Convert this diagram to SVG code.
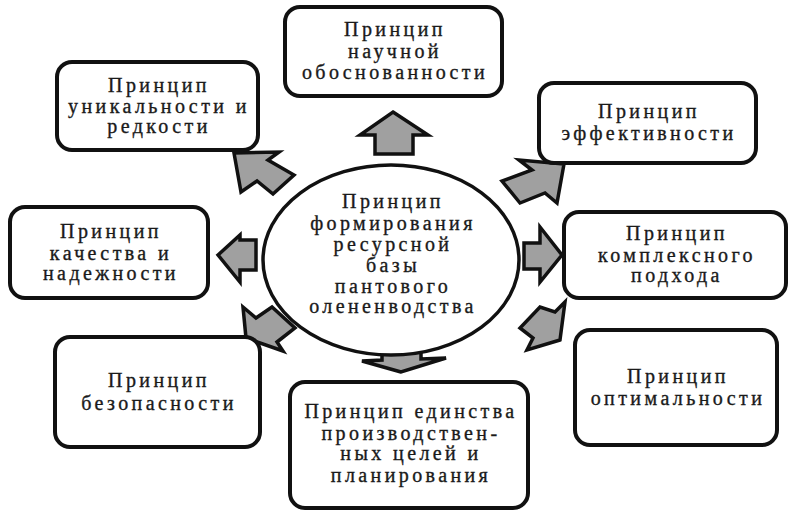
<svg xmlns="http://www.w3.org/2000/svg" width="797" height="525" viewBox="0 0 797 525" font-family="Liberation Serif">
<style>
.box{fill:#fff;stroke:#111;stroke-width:4}
.ell{fill:#fff;stroke:#111;stroke-width:3.5}
.arr{fill:#a0a0a0;stroke:#111;stroke-width:3.5;stroke-linejoin:miter}
.t{font-size:20px;fill:#1a1a1a;stroke:#1a1a1a;stroke-width:0.35;text-anchor:middle;letter-spacing:3.4px}
</style>
<rect width="797" height="525" fill="#fff"/>
<g id="connectors">
<polygon class="arr" points="393,112 428,135 413,135 413,154 375,154 375,135 360,135"/>
<polygon class="arr" points="218,255 240,235 240,240 256,240 256,270 240,270 240,282"/>
<polygon class="arr" points="562,255 540,282 540,269 524,269 524,243 540,243 540,227"/>
<polygon class="arr" points="401,372 362,361 382,360 382,348 421,348 421,359 446,358"/>
<polygon class="arr" points="234,153 279,152 268,160 294,175 273,194 257,181 241,192"/>
<polygon class="arr" points="564,164 557,203 545,193 520,203 502,181 532,170 519,160"/>
<polygon class="arr" points="246,338 243,307 256,318 272,307 295,328 277,342 283,351"/>
<polygon class="arr" points="560,340 527,350 533,338 520,328 540,307 555,312 565,302"/>
</g>
<g id="center" font-family="Liberation Serif">
<ellipse class="ell" cx="391" cy="260" rx="128" ry="95"/>
<text class="t" x="393" y="208">Принцип</text>
<text class="t" x="393" y="230">формирования</text>
<text class="t" x="393" y="251">ресурсной</text>
<text class="t" x="393" y="272">базы</text>
<text class="t" x="393" y="293">пантового</text>
<text class="t" x="393" y="313">олененводства</text>
</g>
<g id="n1" font-family="Liberation Serif">
<rect class="box" x="285" y="7" width="217" height="89" rx="15"/>
<text class="t" x="395" y="36">Принцип</text>
<text class="t" x="395" y="58">научной</text>
<text class="t" x="395" y="79">обоснованности</text>
</g>
<g id="n2" font-family="Liberation Serif">
<rect class="box" x="57" y="62" width="201" height="88" rx="15"/>
<text class="t" x="159" y="92">Принцип</text>
<text class="t" x="159" y="113">уникальности и</text>
<text class="t" x="159" y="133">редкости</text>
</g>
<g id="n3" font-family="Liberation Serif">
<rect class="box" x="539" y="83" width="217" height="80" rx="15"/>
<text class="t" x="649" y="118">Принцип</text>
<text class="t" x="649" y="140">эффективности</text>
</g>
<g id="n4" font-family="Liberation Serif">
<rect class="box" x="10" y="207" width="198" height="91" rx="15"/>
<text class="t" x="111" y="238">Принцип</text>
<text class="t" x="111" y="260">качества и</text>
<text class="t" x="111" y="280">надежности</text>
</g>
<g id="n5" font-family="Liberation Serif">
<rect class="box" x="564" y="212" width="222" height="86" rx="15"/>
<text class="t" x="677" y="240">Принцип</text>
<text class="t" x="677" y="262">комплексного</text>
<text class="t" x="677" y="282">подхода</text>
</g>
<g id="n6" font-family="Liberation Serif">
<rect class="box" x="55" y="337" width="205" height="110" rx="15"/>
<text class="t" x="159" y="387">Принцип</text>
<text class="t" x="159" y="410">безопасности</text>
</g>
<g id="n7" font-family="Liberation Serif">
<rect class="box" x="290" y="382" width="238" height="126" rx="15"/>
<text class="t" x="411" y="418">Принцип единства</text>
<text class="t" x="411" y="440">производствен-</text>
<text class="t" x="411" y="460">ных целей и</text>
<text class="t" x="411" y="482">планирования</text>
</g>
<g id="n8" font-family="Liberation Serif">
<rect class="box" x="575" y="330" width="202" height="115" rx="15"/>
<text class="t" x="678" y="383">Принцип</text>
<text class="t" x="678" y="405">оптимальности</text>
</g>
</svg>
